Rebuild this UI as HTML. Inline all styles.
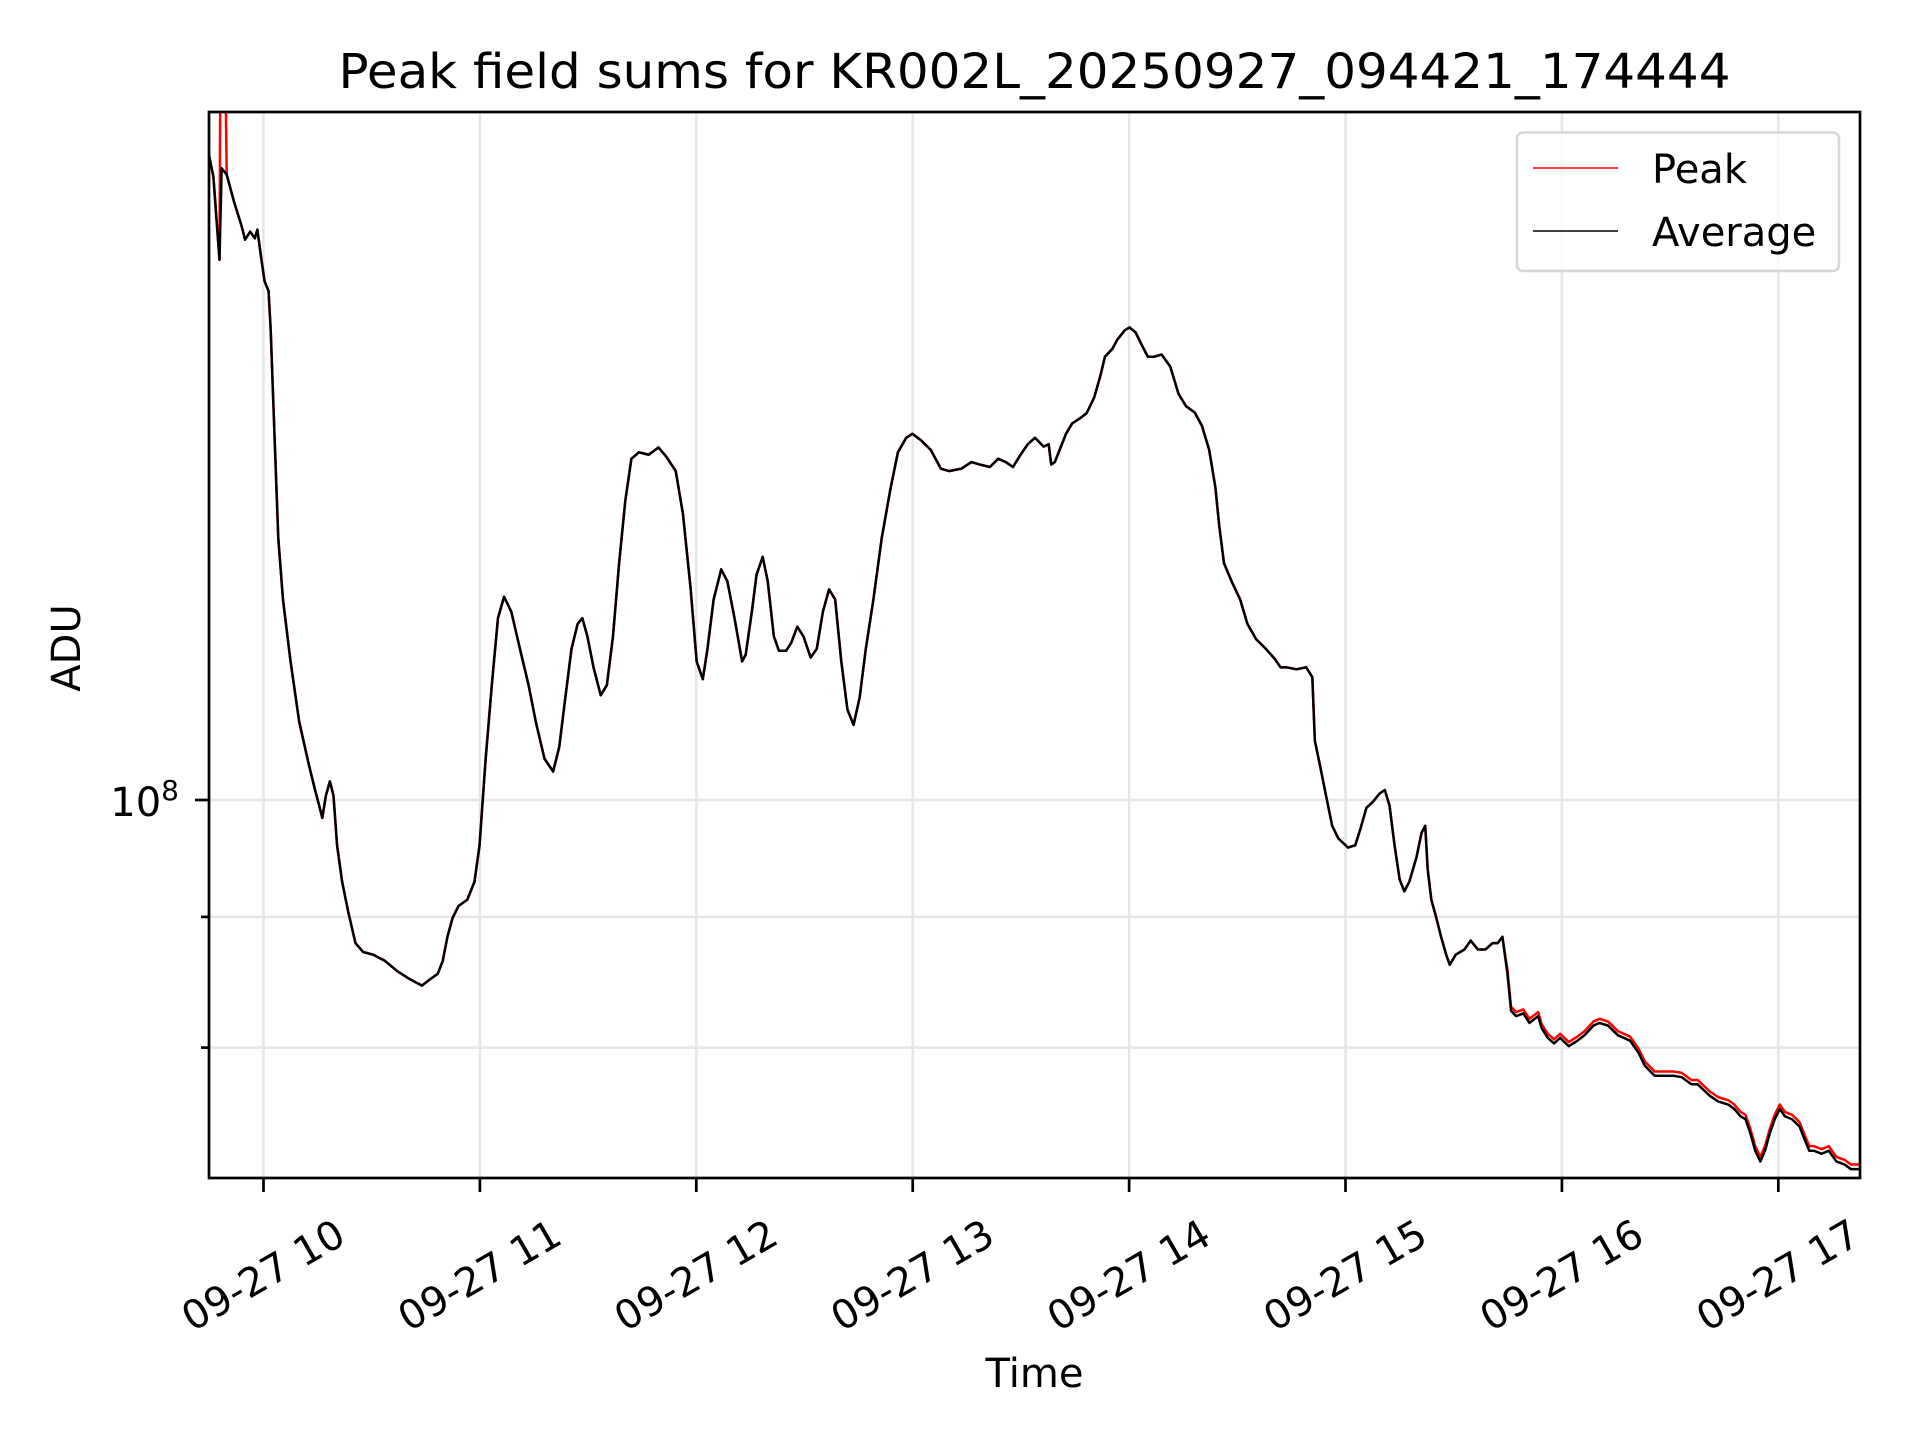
<!DOCTYPE html>
<html>
<head>
<meta charset="utf-8">
<style>
  html, body { margin: 0; padding: 0; background: #ffffff; }
  svg { display: block; font-family: "DejaVu Sans", "Liberation Sans", sans-serif; }
</style>
</head>
<body>
<svg id="chart" xmlns="http://www.w3.org/2000/svg" width="1920" height="1440" viewBox="0 0 1920 1440">
  <rect x="0" y="0" width="1920" height="1440" fill="#ffffff"/>
  <defs>
    <clipPath id="plotClip"><rect x="209" y="112" width="1651" height="1066"/></clipPath>
  </defs>
  <g id="grid"></g>
  <g id="series" clip-path="url(#plotClip)"></g>
  <g id="axes"></g>
  <text x="1034.5" y="88" font-size="48" text-anchor="middle" textLength="1392" lengthAdjust="spacingAndGlyphs" fill="#000">Peak field sums for KR002L_20250927_094421_174444</text>
  <text x="0" y="0" font-size="40" text-anchor="middle" fill="#000" transform="translate(80,648) rotate(-90)">ADU</text>
  <text x="1034.5" y="1387" font-size="40" text-anchor="middle" fill="#000">Time</text>
  <g>
    <rect x="1517" y="132.5" width="322" height="138.5" rx="6" ry="6" fill="#ffffff" fill-opacity="0.8" stroke="#d6d6d6" stroke-width="2.5"/>
    <line x1="1533" y1="168" x2="1618" y2="168" stroke="#ff0000" stroke-width="1.5"/>
    <text x="1652" y="183" font-size="40" fill="#000">Peak</text>
    <line x1="1533" y1="231" x2="1618" y2="231" stroke="#000000" stroke-width="1.5"/>
    <text x="1652" y="246" font-size="40" fill="#000">Average</text>
  </g>
</svg>
<script>
// Time in minutes since 09-27 10:00
const times = [-15.3,-13.9,-12.2,-11.6,-10.2,-8.2,-6.1,-5.1,-3.7,-2.4,-1.7,-0.7,0.3,1.4,2.0,3.1,4.1,5.4,7.5,9.9,12.6,14.3,15.6,16.3,17.3,18.4,19.4,20.4,21.8,23.5,25.5,27.6,30.3,33.7,37.1,40.5,43.9,46.3,48.3,49.7,51.0,52.4,54.1,56.5,58.5,59.9,61.6,63.3,65.0,66.7,68.7,71.1,73.5,75.5,77.9,80.3,82.0,83.7,85.4,87.1,88.4,89.8,91.5,93.5,95.2,96.9,98.6,100.3,102.0,104.1,106.8,109.5,111.6,114.3,116.3,118.4,120.1,121.8,123.1,124.8,126.9,128.6,130.6,132.7,133.7,135.4,136.7,138.4,139.8,141.5,142.9,144.9,146.3,148.0,149.7,151.7,153.4,155.1,156.8,158.5,160.2,161.9,163.6,165.3,167.0,169.1,171.4,173.8,175.9,178.2,179.9,182.3,185.0,187.8,190.1,193.5,196.3,198.6,201.4,203.7,205.8,207.8,209.9,211.9,213.9,216.3,217.7,218.4,219.4,221.1,222.5,224.2,226.5,228.2,230.3,232.0,233.3,235.4,236.7,238.8,240.1,241.8,243.5,245.2,246.9,249.0,251.4,253.7,255.8,258.2,260.2,262.2,263.9,265.0,266.3,268.4,270.8,272.8,275.2,277.9,280.3,282.0,283.7,286.4,289.1,290.8,291.5,292.9,294.6,296.3,298.0,300.7,302.7,304.1,305.8,307.5,309.5,310.9,312.2,313.6,315.0,316.3,317.7,319.7,321.1,322.1,322.8,323.8,325.2,326.5,327.9,328.9,330.6,333.0,334.7,336.7,338.8,340.8,342.2,343.5,344.9,345.9,347.3,349.3,351.0,353.4,354.4,356.1,357.8,359.5,361.9,364.3,366.3,368.7,370.4,372.8,375.5,378.9,381.3,383.0,385.7,388.4,390.8,393.2,395.9,397.6,399.3,401.0,403.4,406.1,407.8,409.5,410.9,412.2,413.6,415.0,416.3,417.7,419.0,420.4,421.8,423.8,425.9,427.2,428.6,429.9,432.0,434.0,436.1,438.4,440.1,441.8,442.9];
// Average ADU in millions
const averageValues = [179.3,175.4,162.7,176.7,175.7,171.5,167.8,165.7,166.9,165.9,167.2,163.2,159.6,158.2,152.7,138.3,126.6,119.8,113.3,107.3,103.2,100.9,99.3,98.4,100.4,101.7,100.4,96.0,92.9,90.4,87.9,87.2,87.0,86.5,85.7,85.1,84.6,85.1,85.5,86.5,88.4,89.9,90.9,91.4,92.9,96.0,103.8,110.9,117.8,120.1,118.5,114.6,110.9,107.3,103.8,102.6,104.9,109.7,114.6,117.2,117.8,115.9,112.7,109.9,110.9,115.9,123.8,130.9,136.0,136.8,136.5,137.4,136.3,134.5,129.4,121.1,113.3,111.5,114.6,119.8,123.1,121.8,117.8,113.3,114.0,118.5,122.5,124.5,121.8,115.9,114.4,114.4,115.2,116.9,115.9,113.7,114.6,118.5,120.9,119.8,113.3,108.5,107.0,109.7,114.6,119.8,126.6,132.3,136.8,138.6,139.1,138.3,137.1,134.8,134.5,134.8,135.6,135.3,135.0,136.0,135.6,135.0,136.5,137.8,138.6,137.5,137.8,135.3,135.6,137.5,139.1,140.4,141.1,141.7,143.7,146.5,149.1,150.2,151.4,152.7,153.1,152.4,150.7,149.1,149.1,149.4,147.8,144.2,142.6,141.8,140.1,137.1,132.6,128.0,123.8,121.8,119.8,117.2,115.6,114.6,113.6,112.7,112.7,112.5,112.7,111.7,105.5,103.2,100.4,97.7,96.6,95.8,96.0,97.4,99.3,99.8,100.6,100.9,99.5,96.0,93.1,92.1,92.9,95.0,97.1,97.7,93.9,91.4,89.9,88.4,87.0,86.2,87.0,87.4,88.1,87.4,87.4,87.9,87.9,88.4,85.5,82.7,82.3,82.5,81.8,82.3,81.4,80.7,80.3,80.7,80.1,80.5,80.9,81.6,81.8,81.6,80.9,80.5,79.6,78.7,78.0,78.0,78.0,77.9,77.4,77.4,77.0,76.6,76.2,76.0,75.7,75.2,75.0,74.1,72.9,72.2,72.9,74.1,75.0,75.7,75.2,75.0,74.5,73.7,72.9,72.9,72.7,72.9,72.2,72.0,71.7,71.7,71.7];
// Peak ADU in millions
const peakValues = [179.3,175.4,162.7,250.0,175.7,171.5,167.8,165.7,166.9,165.9,167.2,163.2,159.6,158.2,152.7,138.3,126.6,119.8,113.3,107.3,103.2,100.9,99.3,98.4,100.4,101.7,100.4,96.0,92.9,90.4,87.9,87.2,87.0,86.5,85.7,85.1,84.6,85.1,85.5,86.5,88.4,89.9,90.9,91.4,92.9,96.0,103.8,110.9,117.8,120.1,118.5,114.6,110.9,107.3,103.8,102.6,104.9,109.7,114.6,117.2,117.8,115.9,112.7,109.9,110.9,115.9,123.8,130.9,136.0,136.8,136.5,137.4,136.3,134.5,129.4,121.1,113.3,111.5,114.6,119.8,123.1,121.8,117.8,113.3,114.0,118.5,122.5,124.5,121.8,115.9,114.4,114.4,115.2,116.9,115.9,113.7,114.6,118.5,120.9,119.8,113.3,108.5,107.0,109.7,114.6,119.8,126.6,132.3,136.8,138.6,139.1,138.3,137.1,134.8,134.5,134.8,135.6,135.3,135.0,136.0,135.6,135.0,136.5,137.8,138.6,137.5,137.8,135.3,135.6,137.5,139.1,140.4,141.1,141.7,143.7,146.5,149.1,150.2,151.4,152.7,153.1,152.4,150.7,149.1,149.1,149.4,147.8,144.2,142.6,141.8,140.1,137.1,132.6,128.0,123.8,121.8,119.8,117.2,115.6,114.6,113.6,112.7,112.7,112.5,112.7,111.7,105.5,103.2,100.4,97.7,96.6,95.8,96.0,97.4,99.3,99.8,100.6,100.9,99.5,96.0,93.1,92.1,92.9,95.0,97.1,97.7,93.9,91.4,89.9,88.4,87.0,86.2,87.0,87.4,88.1,87.4,87.4,87.9,87.9,88.4,85.8,83.0,82.6,82.8,82.1,82.6,81.7,81.0,80.6,81.0,80.4,80.8,81.2,81.9,82.1,81.9,81.2,80.8,79.9,79.0,78.3,78.3,78.3,78.2,77.7,77.7,77.3,76.9,76.5,76.3,76.0,75.5,75.3,74.4,73.2,72.5,73.2,74.4,75.3,76.0,75.5,75.3,74.8,74.0,73.2,73.2,73.0,73.2,72.5,72.3,72.0,72.0,72.0];
// x tick hours and labels
const xTickHours = [10,11,12,13,14,15,16,17];
const xTickLabels = ["09-27 10","09-27 11","09-27 12","09-27 13","09-27 14","09-27 15","09-27 16","09-27 17"];
// y ticks (millions)
const yMajorTicks = [100];
const yMinorTicks = [90,80];

const NS = "http://www.w3.org/2000/svg";
const L = 209, R = 1860, T = 112, B = 1178;
function xScale(m) { return 263.5 + m * 3.6067; }
function yScale(v) { return 800 - 2555 * Math.log10(v / 100); }

function mk(tag, attrs, parent) {
  const el = document.createElementNS(NS, tag);
  for (const k in attrs) el.setAttribute(k, attrs[k]);
  parent.appendChild(el);
  return el;
}
const grid = document.getElementById('grid');
const axes = document.getElementById('axes');
const series = document.getElementById('series');

xTickHours.forEach((h, i) => {
  const x = xScale((h - 10) * 60);
  const g = mk('line', {x1: x, y1: T, x2: x, y2: B, stroke: '#e6e6e6', 'stroke-width': 2.5}, grid);
  
  
  const t = mk('line', {x1: x, y1: B, x2: x, y2: B + 14, stroke: '#000', 'stroke-width': 2.7}, axes);
  
  
  const lbl = mk('text', {x: 0, y: 0, 'font-size': 40, 'text-anchor': 'middle', 'dominant-baseline': 'central', fill: '#000', transform: 'translate(' + x + ',1276) rotate(-30)'}, axes);
  lbl.textContent = xTickLabels[i];
  
  
});
yMajorTicks.concat(yMinorTicks).forEach((v, i) => {
  const y = yScale(v);
  const g = mk('line', {x1: L, y1: y, x2: R, y2: y, stroke: '#e6e6e6', 'stroke-width': 2.5}, grid);
  
  
  const major = i < yMajorTicks.length;
  const t = mk('line', {x1: L - (major ? 14 : 8), y1: y, x2: L, y2: y, stroke: '#000', 'stroke-width': 2.7}, axes);
  
  
});
yMajorTicks.forEach(v => {
  const y = yScale(v);
  const lbl = mk('text', {x: 179, y: y + 16, 'font-size': 40, 'text-anchor': 'end', fill: '#000'}, axes);
  
  
  lbl.appendChild(document.createTextNode('10'));
  const sup = document.createElementNS(NS, 'tspan');
  sup.setAttribute('font-size', 28);
  sup.setAttribute('dy', -16);
  sup.textContent = String(Math.round(Math.log10(v * 1e6)));
  lbl.appendChild(sup);
});

function linePath(vals) {
  return times.map((m, i) => (i ? 'L' : 'M') + xScale(m).toFixed(2) + ',' + yScale(vals[i]).toFixed(2)).join(' ');
}
const peakLine = mk('path', {d: linePath(peakValues), fill: 'none', stroke: '#ff0000', 'stroke-width': 2.5, 'stroke-linejoin': 'round'}, series);


const avgLine = mk('path', {d: linePath(averageValues), fill: 'none', stroke: '#000000', 'stroke-width': 2.5, 'stroke-linejoin': 'round'}, series);



const frame = mk('rect', {x: L, y: T, width: R - L, height: B - T, fill: 'none', stroke: '#000', 'stroke-width': 2.7}, axes);


</script>
</body>
</html>
